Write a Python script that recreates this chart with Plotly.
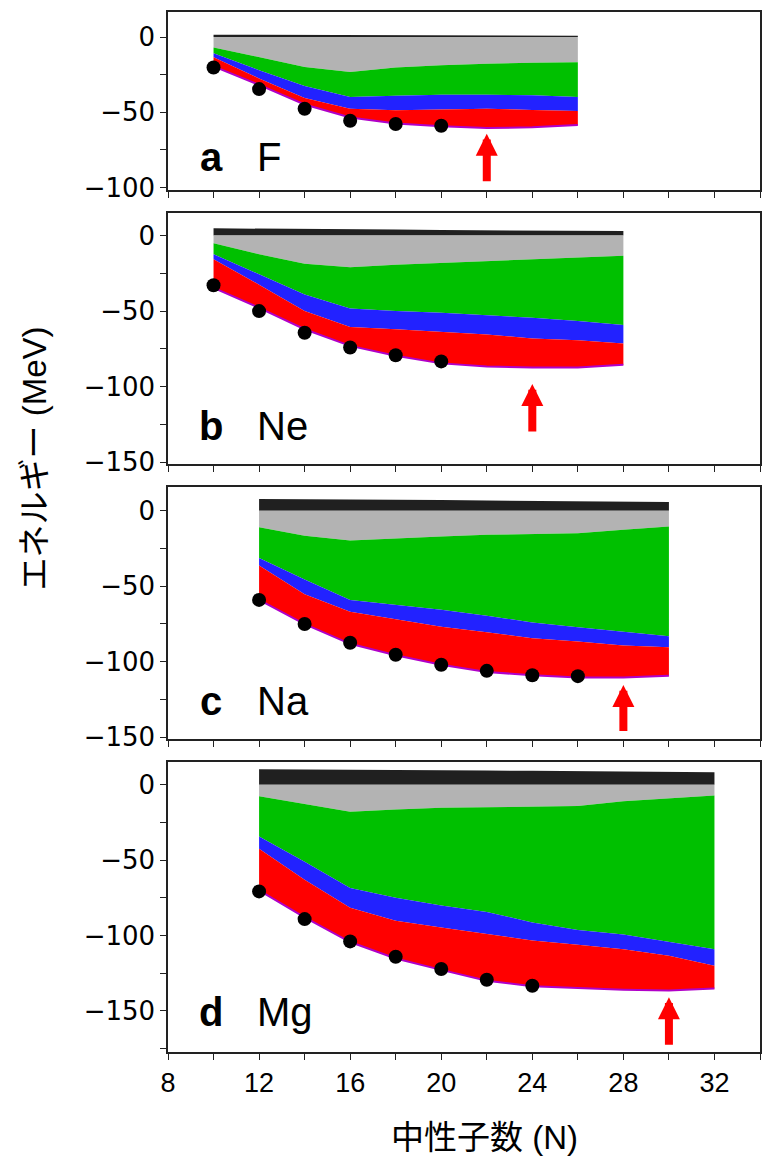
import plotly.graph_objects as go

# ---------------- data ----------------
N_F = [10, 12, 14, 16, 18, 20, 22, 24, 26]
F_top = [1.5, 1.4, 1.4, 1.3, 1.2, 1.1, 1.0, 0.9, 0.8]
F_gray = [-6.9, -13.4, -19.9, -23.2, -20.3, -18.8, -17.7, -17.1, -16.7]
F_green = [-10.8, -22.0, -32.5, -39.8, -39.0, -38.3, -38.3, -38.7, -39.8]
F_blue = [-13.4, -27.5, -40.5, -47.6, -48.7, -48.0, -47.6, -48.5, -49.1]
F_red = [-19.5, -31.8, -44.8, -53.5, -57.4, -59.3, -60.4, -60.0, -58.4]
F_expN = [10, 12, 14, 16, 18, 20]
F_exp = [-20.3, -34.6, -47.6, -55.6, -57.8, -58.9]

N_Ne = [10, 12, 14, 16, 18, 20, 22, 24, 26, 28]
Ne_top = [4.8, 4.7, 4.4, 4.2, 4.0, 3.7, 3.5, 3.3, 3.2, 3.0]
Ne_gray = [-5.0, -12.3, -18.6, -21.0, -19.3, -18.2, -16.7, -15.6, -14.5, -13.4]
Ne_green = [-12.3, -25.9, -39.0, -48.2, -50.0, -51.1, -52.6, -54.4, -56.6, -59.2]
Ne_blue = [-15.6, -32.5, -50.0, -60.5, -62.0, -63.6, -65.4, -68.2, -69.3, -71.5]
Ne_red = [-34.6, -47.8, -62.0, -73.0, -79.6, -84.6, -86.6, -87.3, -87.3, -85.5]
Ne_expN = [10, 12, 14, 16, 18, 20]
Ne_exp = [-32.9, -50.0, -64.3, -74.1, -79.2, -83.3]

N_Na = [12, 14, 16, 18, 20, 22, 24, 26, 28, 30]
Na_top = [7.7, 7.6, 7.4, 7.2, 7.0, 6.7, 6.5, 6.2, 6.0, 5.7]
Na_gray = [-10.9, -16.6, -19.7, -18.2, -17.1, -16.0, -15.5, -14.9, -12.7, -10.5]
Na_green = [-31.3, -45.5, -59.1, -62.4, -65.6, -69.6, -74.0, -77.2, -80.1, -83.2]
Na_blue = [-36.3, -55.4, -67.0, -71.8, -76.8, -80.5, -84.5, -86.7, -89.3, -90.4]
Na_red = [-59.1, -75.1, -88.2, -95.8, -102.0, -106.8, -109.0, -110.5, -110.5, -109.4]
Na_expN = [12, 14, 16, 18, 20, 22, 24, 26]
Na_exp = [-59.1, -75.1, -87.5, -95.4, -102.0, -106.1, -109.0, -109.6]

N_Mg = [12, 14, 16, 18, 20, 22, 24, 26, 28, 30, 32]
Mg_top = [10.4, 10.3, 10.1, 9.9, 9.7, 9.5, 9.3, 9.0, 8.8, 8.5, 8.3]
Mg_gray = [-7.6, -12.6, -17.8, -16.3, -15.2, -14.8, -14.6, -14.1, -10.9, -9.1, -7.0]
Mg_green = [-34.3, -51.1, -68.5, -75.0, -80.0, -84.3, -91.3, -96.3, -99.3, -104.3, -109.1]
Mg_blue = [-42.4, -63.0, -81.5, -90.2, -94.6, -98.9, -103.3, -106.1, -109.1, -113.5, -120.0]
Mg_red = [-70.0, -88.0, -104.3, -115.2, -122.8, -130.0, -133.7, -134.8, -136.0, -136.5, -135.2]
Mg_expN = [12, 14, 16, 18, 20, 22, 24]
Mg_exp = [-70.7, -89.1, -103.9, -114.1, -122.2, -129.3, -133.3]

panel_letters = ["a", "b", "c", "d"]
elements = ["F", "Ne", "Na", "Mg"]
label_y = [-80, -126, -126, -151]

arrow_N = [22, 24, 28, 30]
arrow_tip = [-64.3, -98.2, -115.5, -141.0]
arrow_tail = [-96.8, -130.7, -147.0, -173.5]

y_ranges = [[-101.5, 16.6], [-151.2, 14.8], [-151.2, 15.5], [-177.3, 15.0]]
y_ticks = [[-100, -50, 0], [-150, -100, -50, 0], [-150, -100, -50, 0], [-150, -100, -50, 0]]
domains = [[0.829, 1.0], [0.5654, 0.8065], [0.301, 0.543], [0.0, 0.2786]]

x_ticks = [8, 12, 16, 20, 24, 28, 32]

# ---------------- styles ----------------
C_BLACK = "#202020"
C_GRAY = "#b3b3b3"
C_GREEN = "#00c000"
C_BLUE = "#2222ff"
C_RED = "#ff0000"
C_PURPLE = "#b000c8"

panels = [
    (N_F, F_top, F_gray, F_green, F_blue, F_red, F_expN, F_exp),
    (N_Ne, Ne_top, Ne_gray, Ne_green, Ne_blue, Ne_red, Ne_expN, Ne_exp),
    (N_Na, Na_top, Na_gray, Na_green, Na_blue, Na_red, Na_expN, Na_exp),
    (N_Mg, Mg_top, Mg_gray, Mg_green, Mg_blue, Mg_red, Mg_expN, Mg_exp),
]

fig = go.Figure()

for i, (N, top, gray, green, blue, red, expN, exp) in enumerate(panels):
    xa = "x" if i == 0 else f"x{i+1}"
    ya = "y" if i == 0 else f"y{i+1}"
    zero = [0.0 for _ in N]
    chain = [
        (top, None, None),
        (zero, C_BLACK, None),
        (gray, C_GRAY, None),
        (green, C_GREEN, None),
        (blue, C_BLUE, None),
        (red, C_RED, C_PURPLE),
    ]
    for j, (yy, fc, lc) in enumerate(chain):
        fig.add_trace(go.Scatter(
            x=N, y=yy, xaxis=xa, yaxis=ya, mode="lines",
            line=dict(width=2 if lc else 0, color=lc if lc else "rgba(0,0,0,0)"),
            fill="tonexty" if j > 0 else None,
            fillcolor=fc if fc else None,
            showlegend=False, hoverinfo="skip",
        ))
    fig.add_trace(go.Scatter(
        x=expN, y=exp, xaxis=xa, yaxis=ya, mode="markers",
        marker=dict(size=14, color="black"),
        showlegend=False,
    ))

layout = dict(
    width=763, height=1157,
    margin=dict(l=168, r=1, t=12, b=105),
    paper_bgcolor="white", plot_bgcolor="white",
    showlegend=False,
)

annotations = []
for i in range(4):
    xk = "xaxis" if i == 0 else f"xaxis{i+1}"
    yk = "yaxis" if i == 0 else f"yaxis{i+1}"
    xa = "x" if i == 0 else f"x{i+1}"
    ya = "y" if i == 0 else f"y{i+1}"
    layout[xk] = dict(
        domain=[0, 1], anchor=ya, range=[8, 34],
        tickmode="array", tickvals=x_ticks,
        showticklabels=(i == 3),
        ticks="outside", ticklen=6, tickwidth=1.2, tickcolor="#222",
        minor=dict(dtick=2, tick0=8, ticks="outside", ticklen=6, tickwidth=1.2, tickcolor="#222"),
        showline=True, linecolor="#222", linewidth=1.5, mirror=True,
        showgrid=False, zeroline=False,
        tickfont=dict(family="Liberation Sans", size=27, color="black"),
    )
    layout[yk] = dict(
        domain=domains[i], anchor=xa, range=y_ranges[i],
        tickmode="array", tickvals=y_ticks[i],
        ticktext=[("\u2212" + str(-v)) if v < 0 else str(v) for v in y_ticks[i]],
        ticks="outside", ticklen=6, tickwidth=1.2, tickcolor="#222",
        minor=dict(dtick=25, tick0=0, ticks="outside", ticklen=6, tickwidth=1.2, tickcolor="#222"),
        showline=True, linecolor="#222", linewidth=1.5, mirror=True,
        showgrid=False, zeroline=False,
        tickfont=dict(family="DejaVu Sans", size=26, color="black"),
    )
    annotations.append(dict(
        xref=xa, yref=ya, x=9.9, y=label_y[i], text=f"<b>{panel_letters[i]}</b>",
        showarrow=False, xanchor="center", yanchor="middle",
        font=dict(family="Liberation Sans", size=40, color="black"),
    ))
    annotations.append(dict(
        xref=xa, yref=ya, x=11.8, y=label_y[i], text=elements[i],
        showarrow=False, xanchor="left", yanchor="middle",
        font=dict(family="Liberation Sans", size=40, color="black"),
    ))
    annotations.append(dict(
        xref=xa, yref=ya, x=arrow_N[i], y=arrow_tip[i],
        axref=xa, ayref=ya, ax=arrow_N[i], ay=arrow_tail[i],
        text="", showarrow=True, arrowhead=2, arrowsize=0.55, arrowwidth=8,
        arrowcolor=C_RED, standoff=0, startstandoff=0,
    ))

annotations.append(dict(
    xref="paper", yref="paper", x=(34 - 168) / 594, y=(1052 - 458) / 1040,
    text="エネルギー (MeV)", textangle=-90, showarrow=False,
    xanchor="center", yanchor="middle",
    font=dict(family="Liberation Sans, Noto Sans CJK JP", size=33, color="black"),
))
annotations.append(dict(
    xref="paper", yref="paper", x=(486 - 168) / 594, y=(1052 - 1137) / 1040,
    text="中性子数 (N)", showarrow=False,
    xanchor="center", yanchor="middle",
    font=dict(family="Liberation Sans, Noto Sans CJK JP", size=33, color="black"),
))

layout["annotations"] = annotations
fig.update_layout(**layout)

fig.write_html(
    "out.html",
    config={"displayModeBar": False},
    post_script="document.body.style.margin='0';document.body.style.padding='0';document.body.style.overflow='hidden';",
)
